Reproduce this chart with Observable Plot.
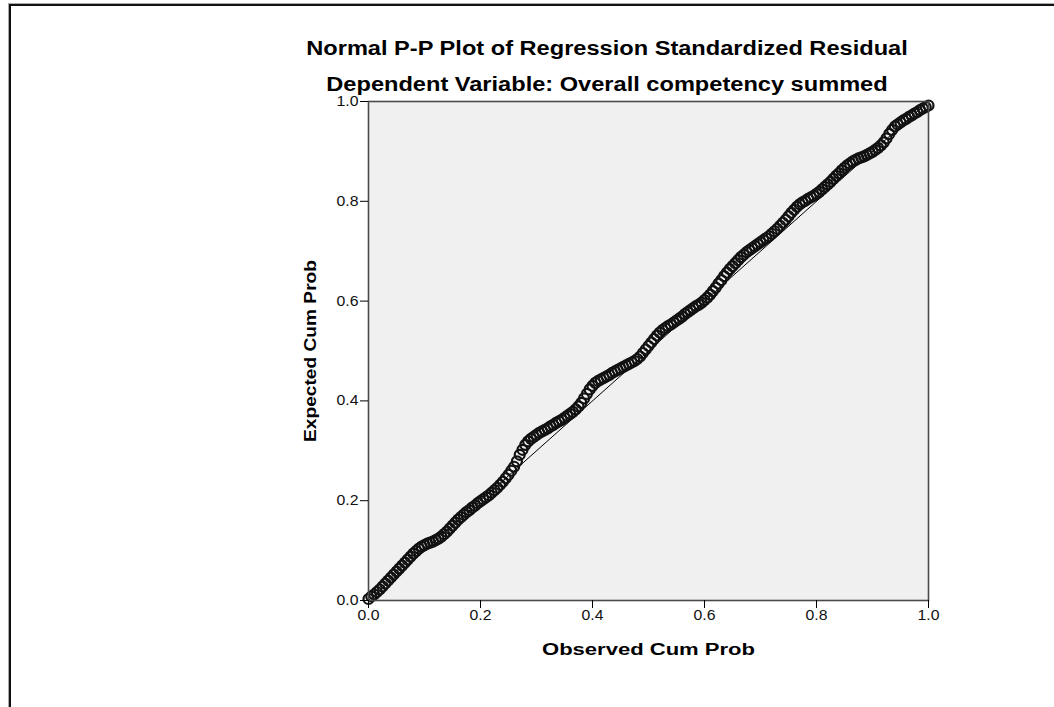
<!DOCTYPE html>
<html>
<head>
<meta charset="utf-8">
<script src="https://cdn.jsdelivr.net/npm/d3@7"></script>
<script src="https://cdn.jsdelivr.net/npm/@observablehq/plot@0.6"></script>
<style>
  html, body { margin: 0; padding: 0; background: #fff; width: 1054px; height: 707px; overflow: hidden; }
  body { position: relative; font-family: Arial, "Liberation Sans", sans-serif; }
  .b1 { position: absolute; left: 8px; top: 3px; width: 1100px; height: 800px; border-left: 1px solid #aaa; border-top: 1px solid #aaa; }
  .b2 { position: absolute; left: 9px; top: 4px; width: 1100px; height: 800px; border-left: 2px solid #111; border-top: 2px solid #111; }
  .ttl { position: absolute; left: 0; width: 1214px; text-align: center; font-weight: bold; font-size: 20px; line-height: 20px; color: #000; white-space: nowrap; transform-origin: 607px 0; transform: scaleX(1.18); }
  #chart { position: absolute; left: 0; top: 86px; }
  #chart svg, #chart svg g, #chart svg text { font-family: Arial, "Liberation Sans", sans-serif; }
</style>
</head>
<body>
<div class="b1"></div>
<div class="b2"></div>
<div class="ttl" id="t1" style="top:38px;"></div>
<div class="ttl" id="t2" style="top:74px;"></div>
<div id="chart"></div>
<script>
const titleText = "Normal P-P Plot of Regression Standardized Residual";
const subtitleText = "Dependent Variable: Overall competency summed";
const xLabel = "Observed Cum Prob";
const yLabel = "Expected Cum Prob";
const xTicks = [0.0, 0.2, 0.4, 0.6, 0.8, 1.0];
const yTicks = [0.0, 0.2, 0.4, 0.6, 0.8, 1.0];
const refLine = [0, 1];

// Observed cumulative probability (x)
const observed = [
  0.000, 0.005, 0.010, 0.015, 0.020, 0.025, 0.030, 0.035, 0.040, 0.045,
  0.050, 0.055, 0.060, 0.065, 0.070, 0.075, 0.080, 0.085, 0.090, 0.095,
  0.100, 0.105, 0.110, 0.115, 0.120, 0.125, 0.130, 0.135, 0.140, 0.145,
  0.150, 0.155, 0.160, 0.165, 0.170, 0.175, 0.180, 0.185, 0.190, 0.195,
  0.200, 0.205, 0.210, 0.215, 0.220, 0.225, 0.230, 0.235, 0.240, 0.245,
  0.250, 0.255, 0.260, 0.265, 0.270, 0.275, 0.280, 0.285, 0.290, 0.295,
  0.300, 0.305, 0.310, 0.315, 0.320, 0.325, 0.330, 0.335, 0.340, 0.345,
  0.350, 0.355, 0.360, 0.365, 0.370, 0.375, 0.380, 0.385, 0.390, 0.395,
  0.400, 0.405, 0.410, 0.415, 0.420, 0.425, 0.430, 0.435, 0.440, 0.445,
  0.450, 0.455, 0.460, 0.465, 0.470, 0.475, 0.480, 0.485, 0.490, 0.495,
  0.500, 0.505, 0.510, 0.515, 0.520, 0.525, 0.530, 0.535, 0.540, 0.545,
  0.550, 0.555, 0.560, 0.565, 0.570, 0.575, 0.580, 0.585, 0.590, 0.595,
  0.600, 0.605, 0.610, 0.615, 0.620, 0.625, 0.630, 0.635, 0.640, 0.645,
  0.650, 0.655, 0.660, 0.665, 0.670, 0.675, 0.680, 0.685, 0.690, 0.695,
  0.700, 0.705, 0.710, 0.715, 0.720, 0.725, 0.730, 0.735, 0.740, 0.745,
  0.750, 0.755, 0.760, 0.765, 0.770, 0.775, 0.780, 0.785, 0.790, 0.795,
  0.800, 0.805, 0.810, 0.815, 0.820, 0.825, 0.830, 0.835, 0.840, 0.845,
  0.850, 0.855, 0.860, 0.865, 0.870, 0.875, 0.880, 0.885, 0.890, 0.895,
  0.900, 0.905, 0.910, 0.915, 0.920, 0.925, 0.930, 0.935, 0.940, 0.945,
  0.950, 0.955, 0.960, 0.965, 0.970, 0.975, 0.980, 0.985, 0.990, 0.995,
  1.000
];
// Expected cumulative probability (y)
const expected = [
  0.003, 0.008, 0.012, 0.017, 0.022, 0.028, 0.034, 0.040, 0.046, 0.052,
  0.058, 0.064, 0.070, 0.076, 0.082, 0.088, 0.094, 0.099, 0.104, 0.108,
  0.111, 0.114, 0.116, 0.118, 0.121, 0.124, 0.128, 0.133, 0.138, 0.144,
  0.150, 0.156, 0.162, 0.167, 0.172, 0.177, 0.181, 0.186, 0.190, 0.195,
  0.199, 0.203, 0.207, 0.211, 0.216, 0.221, 0.226, 0.232, 0.238, 0.245,
  0.252, 0.260, 0.268, 0.279, 0.292, 0.302, 0.312, 0.319, 0.324, 0.328,
  0.332, 0.336, 0.339, 0.342, 0.345, 0.349, 0.352, 0.356, 0.359, 0.362,
  0.366, 0.370, 0.374, 0.378, 0.383, 0.389, 0.396, 0.405, 0.414, 0.423,
  0.430, 0.436, 0.440, 0.443, 0.446, 0.449, 0.452, 0.456, 0.459, 0.462,
  0.465, 0.468, 0.471, 0.474, 0.477, 0.480, 0.484, 0.489, 0.496, 0.503,
  0.510, 0.517, 0.524, 0.531, 0.537, 0.542, 0.546, 0.550, 0.553, 0.557,
  0.561, 0.565, 0.569, 0.574, 0.578, 0.582, 0.586, 0.590, 0.593, 0.597,
  0.602, 0.607, 0.613, 0.620, 0.627, 0.635, 0.642, 0.650, 0.657, 0.664,
  0.670, 0.676, 0.682, 0.688, 0.693, 0.698, 0.702, 0.706, 0.710, 0.714,
  0.718, 0.722, 0.726, 0.730, 0.735, 0.740, 0.745, 0.751, 0.757, 0.763,
  0.770, 0.777, 0.783, 0.789, 0.794, 0.798, 0.801, 0.805, 0.808, 0.811,
  0.815, 0.819, 0.824, 0.829, 0.834, 0.839, 0.845, 0.851, 0.856, 0.862,
  0.867, 0.872, 0.876, 0.880, 0.883, 0.886, 0.888, 0.890, 0.893, 0.896,
  0.899, 0.903, 0.907, 0.912, 0.918, 0.926, 0.935, 0.943, 0.950, 0.954,
  0.958, 0.962, 0.965, 0.969, 0.972, 0.976, 0.979, 0.983, 0.986, 0.989,
  0.992
];

document.getElementById("t1").textContent = titleText;
document.getElementById("t2").textContent = subtitleText;

const points = observed.map((o, i) => ({obs: o, exp: expected[i]}));
const FONT = "Arial, 'Liberation Sans', sans-serif";

const plot = Plot.plot({
  width: 1054,
  height: 584,
  marginLeft: 368,
  marginRight: 126,
  marginTop: 15,
  marginBottom: 70,
  style: {fontFamily: FONT, background: "transparent", color: "#000"},
  x: {domain: [0, 1]},
  y: {domain: [0, 1]},
  marks: [
    Plot.frame({fill: "#f0f0f0", stroke: "none"}),
    Plot.line(refLine, {x: d => d, y: d => d, stroke: "#000", strokeWidth: 1}),
    Plot.dot(points, {x: "obs", y: "exp", r: 5, stroke: "#111", strokeWidth: 2.2, fill: "none"}),
    Plot.frame({stroke: "#4a4a4a", strokeWidth: 1.6}),
    Plot.axisX({ticks: xTicks, tickFormat: d3.format(".1f"), tickSize: 8, tickPadding: 2, fontSize: 14, fontFamily: FONT, label: null, stroke: "#000", fill: "#111"}),
    Plot.axisY({ticks: yTicks, tickFormat: d3.format(".1f"), tickSize: 8, tickPadding: 2, fontSize: 14, fontFamily: FONT, label: null, stroke: "#000", fill: "#111"}),
    Plot.text([xLabel], {frameAnchor: "bottom", textAnchor: "middle", dy: 54, fontSize: 16, fontWeight: "bold", fontFamily: FONT, fill: "#000"}),
    Plot.text([yLabel], {frameAnchor: "left", textAnchor: "middle", dx: -58, rotate: -90, fontSize: 16, fontWeight: "bold", fontFamily: FONT, fill: "#000"})
  ]
});

document.getElementById("chart").appendChild(plot);

const svg = d3.select(plot);
svg.selectAll('g[aria-label="x-axis tick label"] text, g[aria-label="y-axis tick label"] text').each(function() {
  const L = this.getComputedTextLength();
  this.setAttribute("textLength", (L * 1.13).toFixed(1));
  this.setAttribute("lengthAdjust", "spacingAndGlyphs");
});
svg.selectAll('g[aria-label="text"] text').each(function() {
  const t = this.textContent;
  const target = t === xLabel ? 213 : 182;
  this.setAttribute("textLength", target);
  this.setAttribute("lengthAdjust", "spacingAndGlyphs");
});
</script>
</body>
</html>
